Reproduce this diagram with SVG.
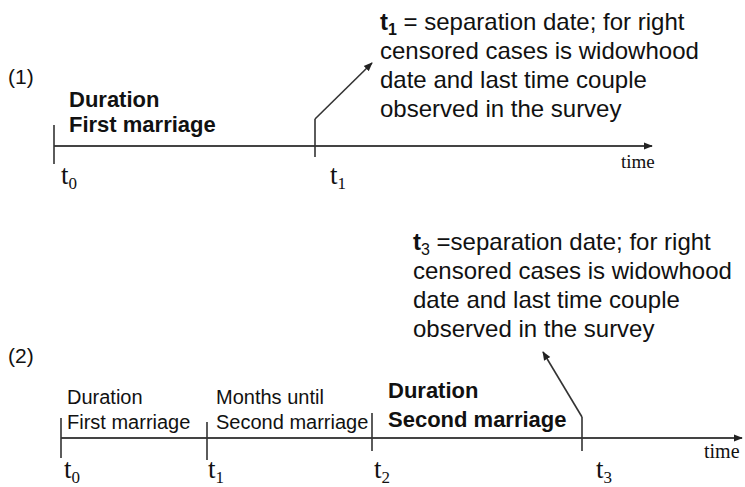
<svg xmlns="http://www.w3.org/2000/svg" width="745" height="487" viewBox="0 0 745 487">
<defs>
<marker id="ah" viewBox="0 0 10 10" refX="9" refY="5" markerWidth="9" markerHeight="9" markerUnits="userSpaceOnUse" orient="auto">
<path d="M0,1 L10,5 L0,9 z" fill="#222"/>
</marker>
<style>
.ln{stroke:#333;stroke-width:1.6;fill:none}
.ax{stroke:#444;stroke-width:2;fill:none}
.sans{font-family:"Liberation Sans",Arial,sans-serif;fill:#111}
.b{font-weight:bold}
.tm{font-family:"Liberation Serif","Times New Roman",serif;fill:#111}
</style>
</defs>
<rect width="745" height="487" fill="#fff"/>
<g id="connectors">
<line class="ax" x1="54" y1="146" x2="652" y2="146" marker-end="url(#ah)"/>
<line class="ln" x1="54" y1="125" x2="54" y2="164"/>
<line class="ln" x1="315" y1="119" x2="315" y2="157"/>
<polyline class="ln" points="315,119 372,63" marker-end="url(#ah)"/>
<line class="ax" x1="61" y1="438" x2="742" y2="438" marker-end="url(#ah)"/>
<line class="ln" x1="61" y1="418" x2="61" y2="458"/>
<line class="ln" x1="207" y1="422" x2="207" y2="460"/>
<line class="ln" x1="372" y1="413" x2="372" y2="451"/>
<line class="ln" x1="582" y1="417" x2="582" y2="451"/>
<polyline class="ln" points="582,417 543,352" marker-end="url(#ah)"/>
</g>
<g id="diagram1">
<text class="sans" x="8" y="84" font-size="21">(1)</text>
<g id="d1-label"><text class="sans b" x="69" y="107" font-size="22">Duration</text>
<text class="sans b" x="69" y="132" font-size="22">First marriage</text></g>
<g id="d1-t0"><text class="tm" x="61" y="184" font-size="27">t<tspan font-size="17" dy="5">0</tspan></text></g>
<g id="d1-t1"><text class="tm" x="330" y="184" font-size="27">t<tspan font-size="17" dy="5">1</tspan></text></g>
<g id="d1-time"><text class="tm" x="621" y="168" font-size="19">time</text></g>
<g id="d1-note" class="sans" font-size="24">
<text x="380" y="30"><tspan class="b">t</tspan><tspan class="b" font-size="16" dy="5">1</tspan><tspan dy="-5"> = separation date; for right</tspan></text>
<text x="380" y="59">censored cases is widowhood</text>
<text x="380" y="88">date and last time couple</text>
<text x="380" y="117">observed in the survey</text>
</g>
</g>
<g id="diagram2">
<text class="sans" x="8" y="363" font-size="21">(2)</text>
<g id="d2-l1"><text class="sans" x="67" y="404" font-size="20">Duration</text>
<text class="sans" x="67" y="429" font-size="20">First marriage</text></g>
<g id="d2-l2"><text class="sans" x="216" y="404" font-size="20">Months until</text>
<text class="sans" x="216" y="429" font-size="20">Second marriage</text></g>
<g id="d2-l3"><text class="sans b" x="388" y="398" font-size="22">Duration</text>
<text class="sans b" x="388" y="427" font-size="22">Second marriage</text></g>
<g id="d2-t0"><text class="tm" x="64" y="478" font-size="27">t<tspan font-size="17" dy="5">0</tspan></text></g>
<g id="d2-t1"><text class="tm" x="208" y="478" font-size="27">t<tspan font-size="17" dy="5">1</tspan></text></g>
<g id="d2-t2"><text class="tm" x="374" y="478" font-size="27">t<tspan font-size="17" dy="5">2</tspan></text></g>
<g id="d2-t3"><text class="tm" x="596" y="478" font-size="27">t<tspan font-size="17" dy="5">3</tspan></text></g>
<g id="d2-time"><text class="tm" x="704" y="458" font-size="20">time</text></g>
<g id="d2-note" class="sans" font-size="24">
<text x="413" y="250"><tspan class="b">t</tspan><tspan font-size="16" dy="5">3</tspan><tspan dy="-5"> =separation date; for right</tspan></text>
<text x="413" y="279">censored cases is widowhood</text>
<text x="413" y="308">date and last time couple</text>
<text x="413" y="337">observed in the survey</text>
</g>
</g>
</svg>
